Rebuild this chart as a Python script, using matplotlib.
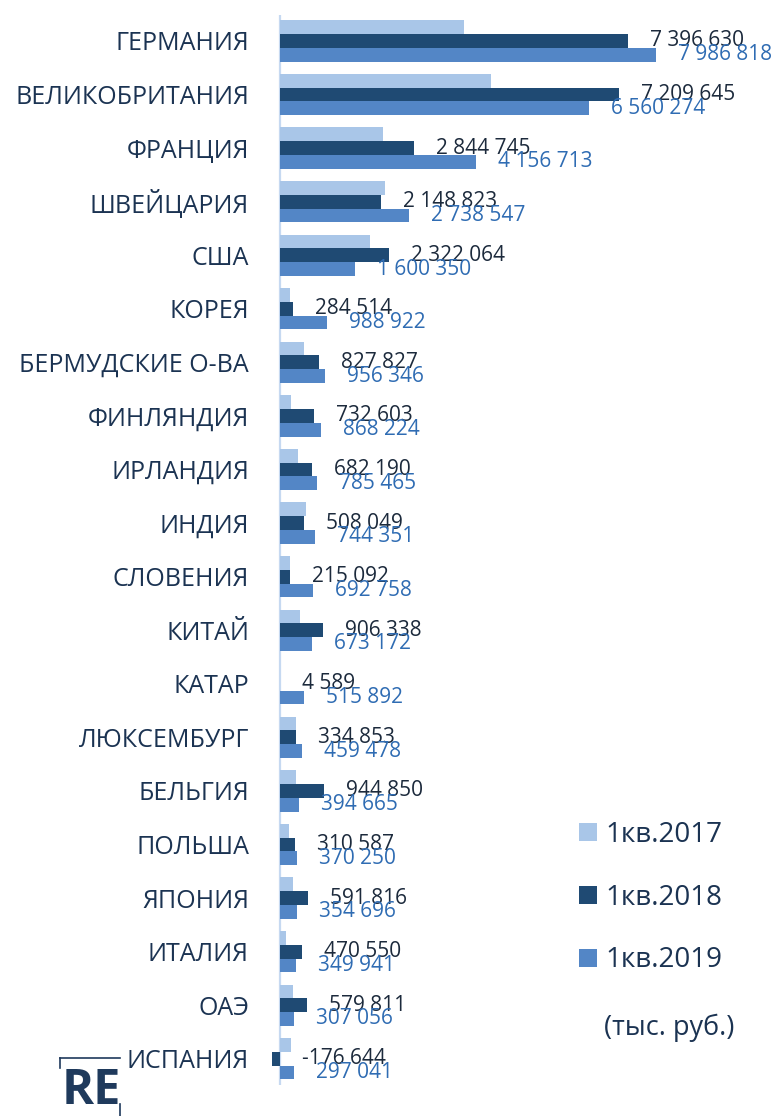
import matplotlib
matplotlib.use("Agg")
import matplotlib.pyplot as plt
from matplotlib.lines import Line2D
import numpy as np

# ---------------- data (тыс. руб.) ----------------
countries = ["ГЕРМАНИЯ", "ВЕЛИКОБРИТАНИЯ", "ФРАНЦИЯ", "ШВЕЙЦАРИЯ", "США", "КОРЕЯ",
             "БЕРМУДСКИЕ О-ВА", "ФИНЛЯНДИЯ", "ИРЛАНДИЯ", "ИНДИЯ", "СЛОВЕНИЯ", "КИТАЙ",
             "КАТАР", "ЛЮКСЕМБУРГ", "БЕЛЬГИЯ", "ПОЛЬША", "ЯПОНИЯ", "ИТАЛИЯ", "ОАЭ", "ИСПАНИЯ"]
q1_2017 = [3910000, 4480000, 2190000, 2240000, 1920000, 210000,
           500000, 230000, 380000, 550000, 210000, 420000,
           0, 350000, 350000, 190000, 280000, 120000, 270000, 230000]
q1_2018 = [7396630, 7209645, 2844745, 2148823, 2322064, 284514,
           827827, 732603, 682190, 508049, 215092, 906338,
           4589, 334853, 944850, 310587, 591816, 470550, 579811, -176644]
q1_2019 = [7986818, 6560274, 4156713, 2738547, 1600350, 988922,
           956346, 868224, 785465, 744351, 692758, 673172,
           515892, 459478, 394665, 370250, 354696, 349941, 307056, 297041]
series_labels = ["1кв.2017", "1кв.2018", "1кв.2019"]
unit_note = "(тыс. руб.)"

# ---------------- style ----------------
C17, C18, C19 = "#a9c6e8", "#1f4a73", "#5386c6"
TXT = "#1b3352"
LBL18 = "#1c2a3c"
LBL19 = "#2f6cb3"
FONT = ["Open Sans", "DejaVu Sans"]
plt.rcParams["font.family"] = FONT

W, H = 778, 1116
fig = plt.figure(figsize=(W / 100, H / 100), dpi=100)
x0_px, zero_px, top_px, bot_px = 262, 280, 15, 1085
ax = fig.add_axes([x0_px / W, 1 - bot_px / H, (W - x0_px) / W, (bot_px - top_px) / H])

px_per_unit = 348.0 / 7396630
ax.set_xlim(-(zero_px - x0_px) / px_per_unit, (W - zero_px) / px_per_unit)
ax.set_ylim(19.49, -0.485)

y = np.arange(len(countries))
h = 0.257
ax.barh(y - h, q1_2017, height=h, color=C17, label=series_labels[0])
ax.barh(y, q1_2018, height=h, color=C18, label=series_labels[1])
ax.barh(y + h, q1_2019, height=h, color=C19, label=series_labels[2])

def fmt(v):
    return f"{v:,}".replace(",", " ")

off_pt = 22 * 0.72
for yi, v in zip(y, q1_2018):
    ax.annotate(fmt(v), xy=(max(v, 0), yi), xytext=(off_pt, 0), textcoords="offset points",
                ha="left", va="center", fontsize=15, color=LBL18)
for yi, v in zip(y, q1_2019):
    ax.annotate(fmt(v), xy=(max(v, 0), yi + h), xytext=(off_pt, 0), textcoords="offset points",
                ha="left", va="center", fontsize=15, color=LBL19)

ax.axvline(0, color="#c6d9f1", lw=1.6, zorder=0.5)
for s in ax.spines.values():
    s.set_visible(False)
ax.set_xticks([])
ax.set_yticks(y, countries)
ax.tick_params(axis="y", length=0, pad=(x0_px - 249) * 0.72, labelsize=18, labelcolor=TXT)

leg = ax.legend(loc="upper left", bbox_to_anchor=(579 / W, 1 - 821 / H), bbox_transform=fig.transFigure,
                frameon=False, fontsize=20, handlelength=0.64, handleheight=0.64, handletextpad=0.32,
                labelspacing=1.25, borderpad=0, borderaxespad=0)
for t in leg.get_texts():
    t.set_color(TXT)

fig.text(669 / W, 1 - 1028 / H, unit_note, ha="center", va="center", fontsize=19.5, color=TXT)

# logo
fig.text(91 / W, 1 - 1091 / H, "RE", ha="center", va="center", fontsize=35, fontweight="bold", color="#1f3a5c")
fig.add_artist(Line2D([60 / W, 120 / W], [1 - 1058 / H, 1 - 1058 / H], color="#1f3a5c", lw=1.2))
fig.add_artist(Line2D([60 / W, 60 / W], [1 - 1058 / H, 1 - 1068 / H], color="#1f3a5c", lw=1.2))
fig.add_artist(Line2D([120 / W, 120 / W], [1 - 1104 / H, 1 - 1116 / H], color="#1f3a5c", lw=1.2))

fig.savefig("out.png", dpi=100)
